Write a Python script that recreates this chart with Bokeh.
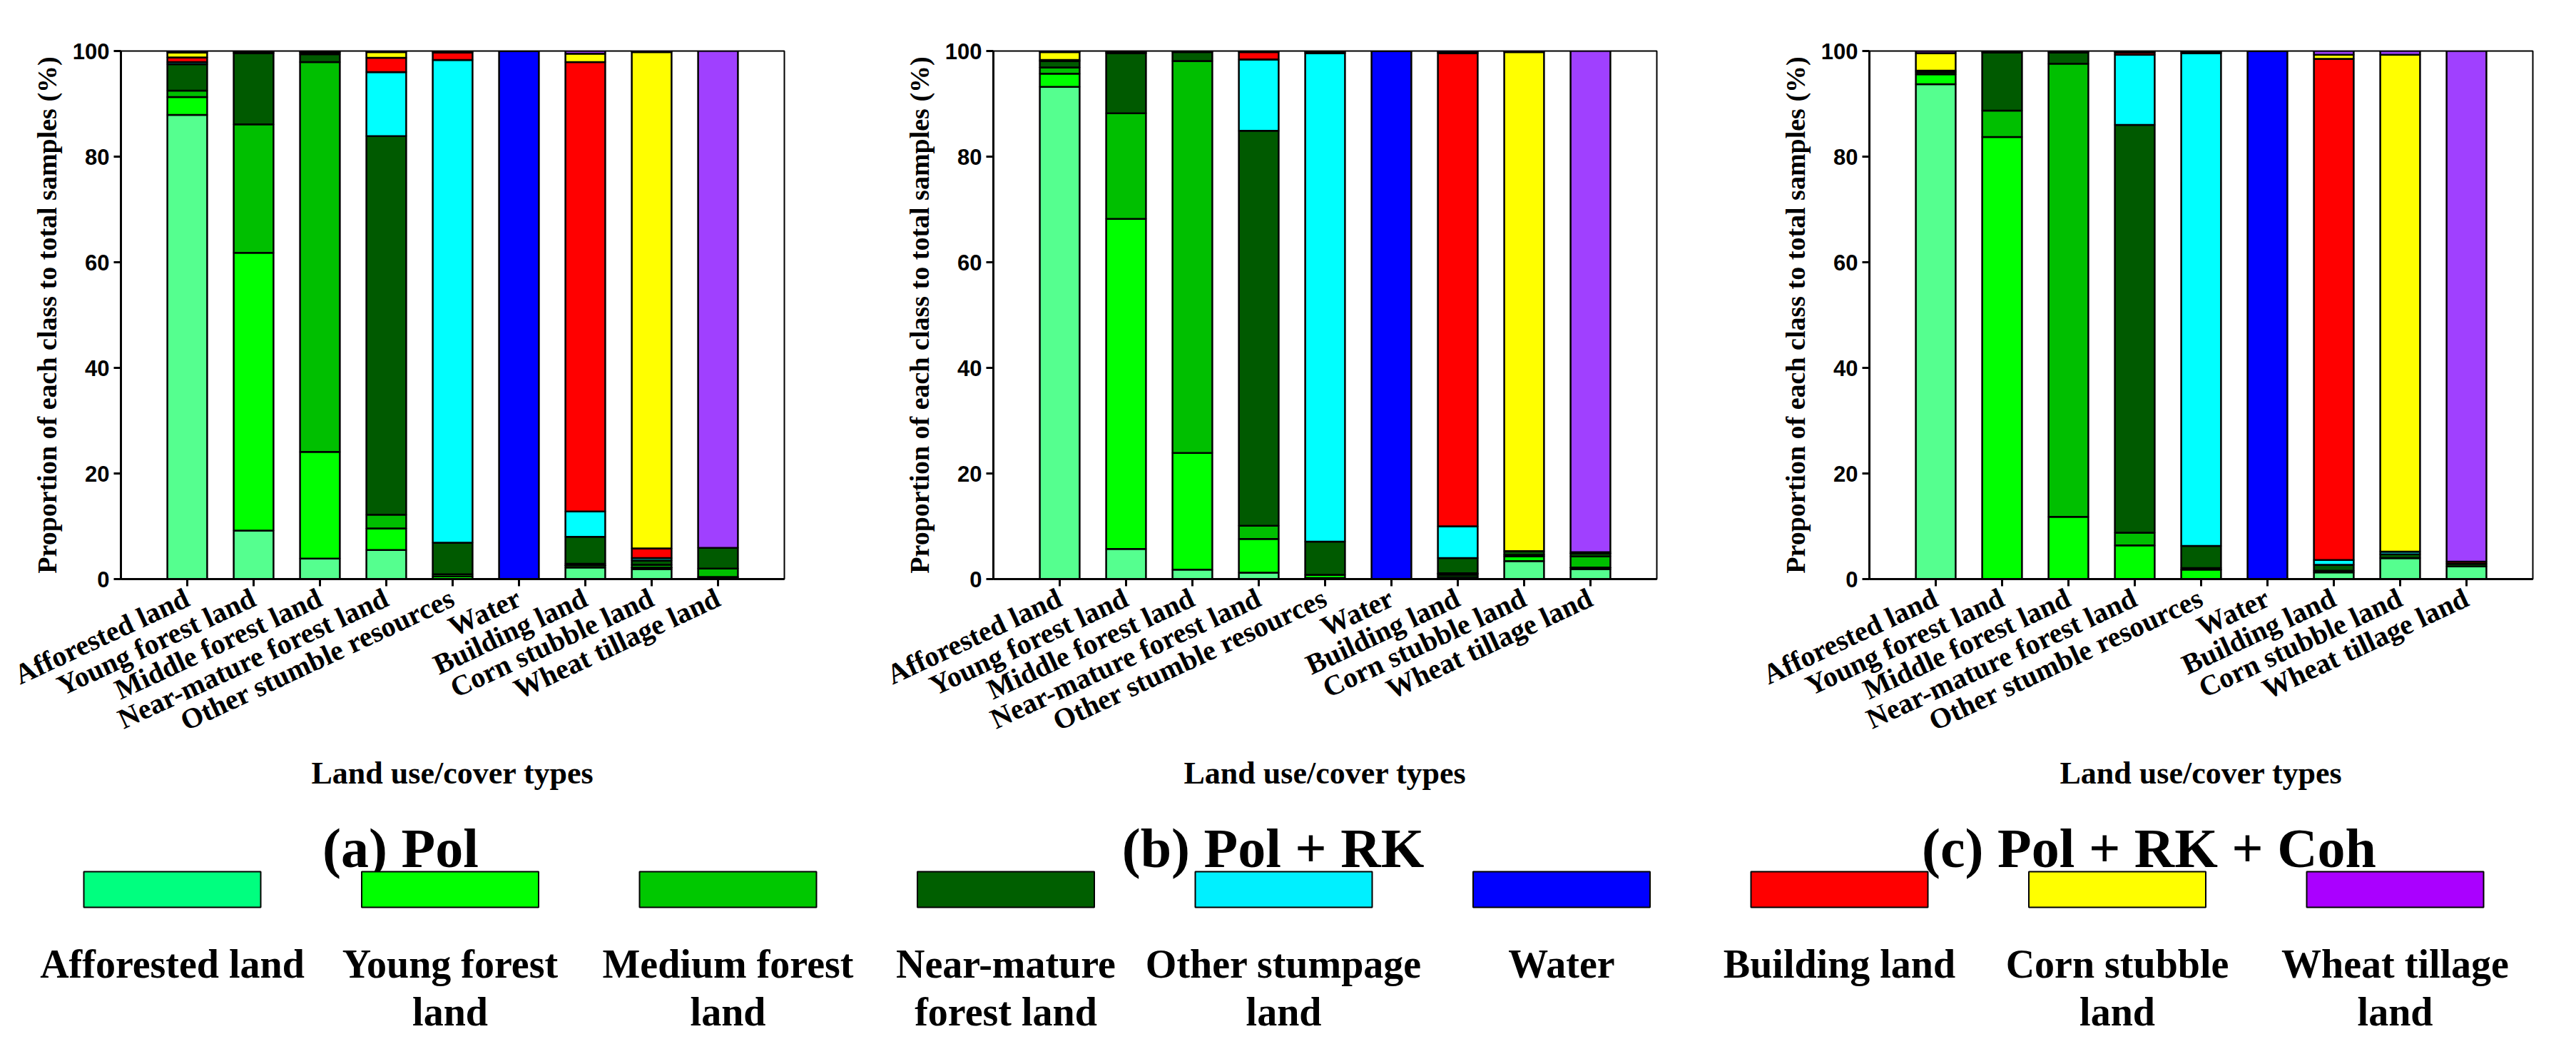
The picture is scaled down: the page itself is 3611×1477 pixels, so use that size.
import math
from bokeh.plotting import figure
from bokeh.models import Range1d, FixedTicker, Title, ColumnDataSource
from bokeh.layouts import row, column
from bokeh.embed import file_html
from bokeh.resources import INLINE
from bokeh.core.properties import value

# ---------------- data ----------------
categories = ["Afforested land", "Young forest land", "Middle forest land",
              "Near-mature forest land", "Other stumble resources", "Water",
              "Building land", "Corn stubble land", "Wheat tillage land"]
keys = ["af", "yf", "mf", "nm", "os", "wa", "bu", "co", "wh"]
legend_line1 = ["Afforested land", "Young forest", "Medium forest", "Near-mature",
                "Other stumpage", "Water", "Building land", "Corn stubble", "Wheat tillage"]
legend_line2 = ["", "land", "land", "forest land", "land", "", "", "land", "land"]
y_ticks = [0, 20, 40, 60, 80, 100]
panel_titles = ["(a) Pol", "(b) Pol + RK", "(c) Pol + RK + Coh"]

pol = {
    "af": [87.9, 9.2, 3.9, 5.5, 0.0, 0.0, 2.2, 1.9, 0.2],
    "yf": [3.4, 52.6, 20.2, 4.1, 0.5, 0.0, 0.4, 0.3, 0.2],
    "mf": [1.2, 24.3, 73.8, 2.6, 0.4, 0.0, 0.3, 0.5, 1.6],
    "nm": [5.0, 13.5, 1.5, 71.7, 6.0, 0.0, 5.1, 0.8, 3.9],
    "os": [0.4, 0.2, 0.3, 12.1, 91.4, 0.0, 4.8, 0.5, 0.0],
    "wa": [0.0, 0.0, 0.0, 0.0, 0.0, 100.0, 0.0, 0.0, 0.0],
    "bu": [0.9, 0.2, 0.3, 2.7, 1.4, 0.0, 85.1, 1.8, 0.0],
    "co": [0.9, 0.0, 0.0, 1.1, 0.3, 0.0, 1.6, 94.0, 0.0],
    "wh": [0.3, 0.0, 0.0, 0.2, 0.0, 0.0, 0.5, 0.2, 94.1],
}
pol_rk = {
    "af": [93.2, 5.7, 1.8, 1.2, 0.2, 0.0, 0.4, 3.4, 1.9],
    "yf": [2.5, 62.5, 22.1, 6.4, 0.6, 0.0, 0.4, 0.9, 0.3],
    "mf": [1.2, 20.0, 74.2, 2.5, 0.0, 0.0, 0.3, 0.3, 2.1],
    "nm": [1.2, 11.4, 1.7, 74.8, 6.3, 0.0, 2.9, 0.7, 0.6],
    "os": [0.2, 0.2, 0.2, 13.5, 92.5, 0.0, 6.0, 0.0, 0.0],
    "wa": [0.0, 0.0, 0.0, 0.0, 0.0, 100.0, 0.0, 0.0, 0.0],
    "bu": [0.0, 0.2, 0.0, 1.4, 0.2, 0.0, 89.6, 0.0, 0.2],
    "co": [1.5, 0.0, 0.0, 0.2, 0.2, 0.0, 0.2, 94.5, 0.0],
    "wh": [0.2, 0.0, 0.0, 0.0, 0.0, 0.0, 0.2, 0.2, 94.9],
}
pol_rk_coh = {
    "af": [93.7, 0.0, 0.0, 0.0, 0.0, 0.0, 1.3, 4.0, 2.4],
    "yf": [1.9, 83.7, 11.8, 6.4, 1.8, 0.0, 0.0, 0.0, 0.0],
    "mf": [0.0, 5.0, 85.8, 2.4, 0.3, 0.0, 0.3, 0.0, 0.0],
    "nm": [0.4, 11.0, 2.1, 77.2, 4.2, 0.0, 1.1, 0.7, 0.5],
    "os": [0.0, 0.3, 0.3, 13.3, 93.3, 0.0, 0.9, 0.5, 0.0],
    "wa": [0.0, 0.0, 0.0, 0.0, 0.0, 100.0, 0.0, 0.0, 0.0],
    "bu": [0.3, 0.0, 0.0, 0.4, 0.2, 0.0, 94.9, 0.0, 0.4],
    "co": [3.3, 0.0, 0.0, 0.3, 0.2, 0.0, 0.8, 94.1, 0.0],
    "wh": [0.4, 0.0, 0.0, 0.0, 0.0, 0.0, 0.7, 0.7, 96.7],
}

# ---------------- styles ----------------
bar_colors = ["#55FF8F", "#00FF00", "#00BF00", "#005A00", "#00FFFF",
              "#0000FF", "#FF0000", "#FFFF00", "#A040FF"]
legend_colors = ["#00FF7F", "#00FF00", "#00C800", "#005F00", "#00F0FF",
                 "#0000FF", "#FF0000", "#FFFF00", "#AA00FF"]
SERIF = "Liberation Serif"
SANS = "Liberation Sans"

TOP_H = 1116
FRAME_W = 930
FRAME_H = 740
BORDER_TOP = 71
panel_specs = [  # (width, min_border_left, min_border_right, x-title offset px)
    (1232, 169, 133, -60),
    (1230, 160, 140, -50),
    (1132, 158, 44, -10),
]


def make_panel(data, spec):
    width, left, right, off = spec
    src = ColumnDataSource(dict(x=list(range(len(categories))), **data))
    p = figure(width=width, height=TOP_H,
               x_range=Range1d(-1, len(categories)), y_range=Range1d(0, 100),
               output_backend="svg", toolbar_location=None,
               min_border_left=left, min_border_right=right,
               min_border_top=BORDER_TOP,
               min_border_bottom=TOP_H - BORDER_TOP - FRAME_H)
    p.vbar_stack(keys, x="x", width=0.6, source=src,
                 fill_color=bar_colors, line_color="black", line_width=2.5)
    p.grid.visible = False
    p.outline_line_color = "black"
    p.outline_line_width = 2
    p.background_fill_color = "white"
    p.border_fill_color = "white"

    p.xaxis.ticker = FixedTicker(ticks=list(range(len(categories))))
    p.xaxis.major_label_overrides = {i: c for i, c in enumerate(categories)}
    p.xaxis.major_label_orientation = math.radians(25)
    p.xaxis.major_label_text_font = SERIF
    p.xaxis.major_label_text_font_style = "bold"
    p.xaxis.major_label_text_font_size = "40px"
    p.xaxis.major_label_text_color = "black"
    p.xaxis.major_label_standoff = 14

    p.yaxis.ticker = FixedTicker(ticks=y_ticks)
    p.yaxis.major_label_text_font = SANS
    p.yaxis.major_label_text_font_style = "bold"
    p.yaxis.major_label_text_font_size = "31px"
    p.yaxis.major_label_text_color = "black"
    p.yaxis.major_label_standoff = 6
    p.yaxis.axis_label = "Proportion of each class to total samples (%)"
    p.yaxis.axis_label_text_font = SERIF
    p.yaxis.axis_label_text_font_style = "bold"
    p.yaxis.axis_label_text_font_size = "38px"
    p.yaxis.axis_label_text_color = "black"
    p.yaxis.axis_label_standoff = 12

    for ax in (p.xaxis, p.yaxis):
        ax.axis_line_width = 3
        ax.axis_line_color = "black"
        ax.major_tick_line_width = 3
        ax.major_tick_line_color = "black"
        ax.major_tick_out = 10
        ax.major_tick_in = 0
        ax.minor_tick_line_color = None

    xt = Title(text="Land use/cover types", align="center", offset=off, standoff=0,
               text_font=SERIF, text_font_style="bold", text_font_size="44px",
               text_color="black")
    p.add_layout(xt, "below")
    return p


panels = [make_panel(d, s) for d, s in zip([pol, pol_rk, pol_rk_coh], panel_specs)]

# ---------------- bottom: subtitles + legend ----------------
PAGE_W = sum(s[0] for s in panel_specs)
BOT_H = 341
leg = figure(width=PAGE_W, height=BOT_H,
             x_range=Range1d(8, 8 + PAGE_W), y_range=Range1d(8 + TOP_H + BOT_H, 8 + TOP_H),
             output_backend="svg", toolbar_location=None,
             x_axis_location=None, y_axis_location=None,
             min_border=0, min_border_left=0, min_border_right=0,
             min_border_top=0, min_border_bottom=0)
leg.grid.visible = False
leg.outline_line_color = None
leg.border_fill_color = "white"

x0 = 8
frame_centres = []
for w, l, r, _ in panel_specs:
    frame_centres.append(x0 + l + FRAME_W / 2)
    x0 += w
sub_x = [c - 73 for c in frame_centres]
leg.text(x=sub_x, y=[1196] * 3, text=panel_titles,
         text_font=value(SERIF), text_font_style="bold", text_font_size="78px",
         text_align="center", text_baseline="alphabetic", text_color="black")

n = len(legend_colors)
sw_centres = [249 + 389.5 * i for i in range(n)]
leg.quad(left=[c - 124 for c in sw_centres], right=[c + 124 for c in sw_centres],
         top=[1229] * n, bottom=[1279] * n,
         fill_color=legend_colors, line_color="black", line_width=2)
leg.text(x=sw_centres, y=[1358] * n, text=legend_line1,
         text_font=value(SERIF), text_font_style="bold", text_font_size="56px",
         text_align="center", text_baseline="alphabetic", text_color="black")
leg.text(x=sw_centres, y=[1425] * n, text=legend_line2,
         text_font=value(SERIF), text_font_style="bold", text_font_size="56px",
         text_align="center", text_baseline="alphabetic", text_color="black")

layout = column(row(*panels), leg)
open("out.html", "w").write(file_html(layout, INLINE))
